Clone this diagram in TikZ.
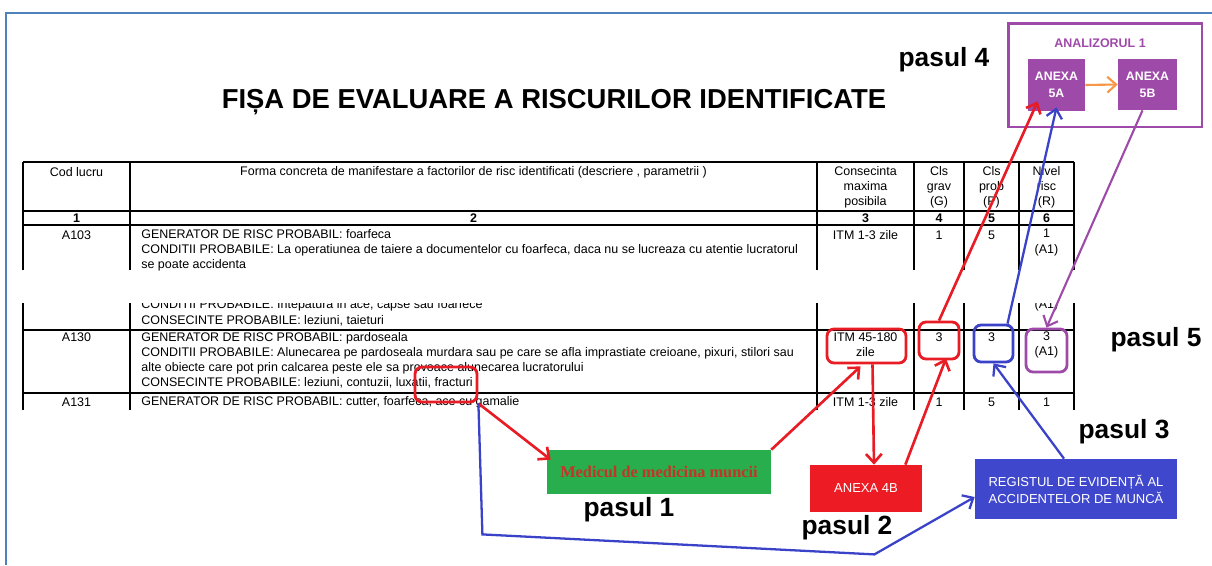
\documentclass[tikz,border=0pt]{standalone}
\usepackage{fontspec}
\setmainfont{Liberation Sans}
\newfontfamily\medfont{Liberation Serif}
\usetikzlibrary{calc,arrows.meta}

\definecolor{framecol}{RGB}{79,129,189}
\definecolor{anpurple}{RGB}{158,74,168}
\definecolor{hlred}{RGB}{232,28,36}
\definecolor{hlblue}{RGB}{58,66,200}
\definecolor{medgreen}{RGB}{40,174,76}
\definecolor{boxred}{RGB}{237,28,36}
\definecolor{regblue}{RGB}{63,72,204}
\definecolor{arrorange}{RGB}{247,150,70}
\definecolor{medtext}{RGB}{196,52,40}

\tikzset{
    tabtxt/.style={font=\fontsize{7.1}{8.6}\selectfont, inner sep=0pt},
    tabnr/.style={tabtxt, font=\fontsize{7.1}{8.6}\selectfont\bfseries},
    tabline/.style={line width=1.1pt},
    pasul/.style={font=\fontsize{15}{18}\selectfont\bfseries, inner sep=0pt},
    hlbox/.style={draw, line width=1.6pt, rounded corners=4pt, inner sep=0pt},
    anbox/.style={fill=anpurple, text=white, align=center, inner sep=0pt,
        font=\fontsize{7}{9.6}\selectfont\bfseries},
    connector/.style={line width=1.5pt, -{Straight Barb[length=5pt,width=9pt]}}
}

\begin{document}
\begin{tikzpicture}[x=0.02cm,y=-0.02cm]
    \useasboundingbox (0,0) rectangle (1212,565);
    \draw[framecol, line width=1.2pt] (1212,13) -- (6,13) -- (6,565);

    \node[font=\fontsize{15.6}{18}\selectfont\bfseries, inner sep=0pt] (title) at (554,102) {FIȘA DE EVALUARE A RISCURILOR IDENTIFICATE};

    % tabel
    \draw[tabline] (23,162) -- (1074,162) (23,211) -- (1074,211) (23,225) -- (1074,225);
    \draw[tabline] (23,330) -- (1074,330) (23,393) -- (1074,393);
    \foreach \x in {23,130,817,914,964,1019,1074}
        \draw[tabline] (\x,162) -- (\x,270) (\x,303) -- (\x,410);

    \node[tabtxt] (hcod) at (76.5,172) {Cod lucru};
    \node[tabtxt] (hforma) at (473.5,172) {Forma concreta de manifestare a factorilor de risc identificati (descriere , parametrii )};
    \node[tabtxt, align=center] (hcons) at (865.5,187) {Consecinta\\maxima\\posibila};
    \node[tabtxt, align=center] (hgrav) at (939,187) {Cls\\grav\\(G)};
    \node[tabtxt, align=center] (hprob) at (991.5,187) {Cls\\prob\\(P)};
    \node[tabtxt, align=center] (hniv) at (1046.5,187) {Nivel\\risc\\(R)};
    \foreach \x/\n in {76.5/1,473.5/2,865.5/3,939/4,991.5/5,1046.5/6}
        \node[tabnr] (nr\n) at (\x,218) {\n};

    \node[tabtxt] (cod103) at (76.5,235) {A103};
    \node[tabtxt, align=left, anchor=west] (txt103) at (141,250) {GENERATOR DE RISC PROBABIL: foarfeca\\CONDITII PROBABILE: La operatiunea de taiere a documentelor cu foarfeca, daca nu se lucreaza cu atentie lucratorul\\se poate accidenta};
    \node[tabtxt] (itm103) at (865.5,235) {ITM 1-3 zile};
    \node[tabtxt] (g103) at (939,235) {1};
    \node[tabtxt] (p103) at (991.5,235) {5};
    \node[tabtxt, align=center] (r103) at (1046.5,242.5) {1\\(A1)};

    \begin{scope}
        \clip (130,303) rectangle (1074,330);
        \node[tabtxt, anchor=west] (txtcut) at (141,305) {CONDITII PROBABILE: Intepatura in ace, capse sau foarfece};
        \node[tabtxt] (rcut) at (1046.5,305) {(A1)};
    \end{scope}
    \node[tabtxt, anchor=west] (txt120) at (141,321) {CONSECINTE PROBABILE: leziuni, taieturi};

    \node[tabtxt] (cod130) at (76.5,337) {A130};
    \node[tabtxt, align=left, anchor=west] (txt130) at (141,360.5) {GENERATOR DE RISC PROBABIL: pardoseala\\CONDITII PROBABILE: Alunecarea pe pardoseala murdara sau pe care se afla imprastiate creioane, pixuri, stilori sau\\alte obiecte care pot prin calcarea peste ele sa provoace alunecarea lucratorului\\CONSECINTE PROBABILE: leziuni, contuzii, luxatii, fracturi};
    \node[tabtxt, align=center] (itm130) at (865.5,345) {ITM 45-180\\zile};
    \node[tabtxt] (g130) at (939,337) {3};
    \node[tabtxt] (p130) at (991.5,337) {3};
    \node[tabtxt, align=center] (r130) at (1046.5,345) {3\\(A1)};

    \node[tabtxt] (cod131) at (76.5,402) {A131};
    \node[tabtxt, anchor=west] (txt131) at (141,402) {GENERATOR DE RISC PROBABIL: cutter, foarfeca, ace cu gamalie};
    \node[tabtxt] (itm131) at (865.5,402) {ITM 1-3 zile};
    \node[tabtxt] (g131) at (939,402) {1};
    \node[tabtxt] (p131) at (991.5,402) {5};
    \node[tabtxt] (r131) at (1046.5,402) {1};

    % marcaje
    \node[hlbox, hlred, minimum width=1.24cm, minimum height=0.7cm] (fractbox) at (446,384.5) {};
    \node[hlbox, hlred, minimum width=1.58cm, minimum height=0.68cm] (itmbox) at (866.5,346) {};
    \node[hlbox, hlred, minimum width=0.8cm, minimum height=0.74cm] (gbox) at (939,340.5) {};
    \node[hlbox, hlblue, minimum width=0.78cm, minimum height=0.74cm] (pbox) at (993.5,343.5) {};
    \node[hlbox, anpurple, minimum width=0.82cm, minimum height=0.86cm] (rbox) at (1046.5,350.5) {};

    % analizor
    \node[draw=anpurple, line width=1.7pt, minimum width=3.88cm, minimum height=2.08cm, inner sep=0pt] (analiz) at (1105,75) {};
    \node[text=anpurple, font=\fontsize{7.1}{9}\selectfont\bfseries, inner sep=0pt] (anlabel) at (1100,43) {ANALIZORUL 1};
    \node[anbox, minimum width=1.14cm, minimum height=1.04cm] (anexa5a) at (1056.5,85) {ANEXA\\5A};
    \node[anbox, minimum width=1.18cm, minimum height=1.02cm] (anexa5b) at (1147.5,84.5) {ANEXA\\5B};

    \node[fill=medgreen, text=medtext, minimum width=4.48cm, minimum height=0.88cm, font=\medfont\fontsize{9.3}{11}\selectfont\bfseries] (medic) at (659,472) {Medicul de medicina muncii};
    \node[fill=boxred, text=white, minimum width=2.24cm, minimum height=0.94cm, font=\fontsize{7.4}{9}\selectfont] (anexa4b) at (866,488.5) {ANEXA 4B};
    \node[fill=regblue, text=white, align=center, minimum width=4.04cm, minimum height=1.2cm, font=\fontsize{7.4}{9.6}\selectfont] (regbox) at (1076,489) {REGISTUL DE EVIDENȚĂ AL\\ACCIDENTELOR DE MUNCĂ};

    \node[pasul] (pasul1) at (629,510) {pasul 1};
    \node[pasul] (pasul2) at (847,528) {pasul 2};
    \node[pasul] (pasul3) at (1124,432) {pasul 3};
    \node[pasul] (pasul4) at (944,60) {pasul 4};
    \node[pasul] (pasul5) at (1156,340) {pasul 5};

    % sageti
    \draw[connector, hlred] (fractbox.south east) -- ($(medic.north west)+(4,10)$);
    \draw[connector, hlred] (medic.north east) -- ($(itmbox.south)+(-6,2)$);
    \draw[connector, hlred] ($(itmbox.south)+(6,0)$) -- ($(anexa4b.north)+(8,0)$);
    \draw[connector, hlred] ($(anexa4b.north east)+(-17,0)$) -- ($(gbox.south)+(7,-2)$);
    \draw[connector, hlred] (gbox.north) -- ($(anexa5a.south west)+(10,-10)$);
    \draw[connector, hlblue, line width=1.3pt] ($(pbox.north)+(14,0)$) -- ($(anexa5a.south)+(0,-4)$);
    \draw[connector, hlblue, line width=1.3pt] ($(regbox.north)+(-12,0)$) -- (pbox.south);
    \draw[connector, hlblue, line width=1.3pt] (fractbox.south east) -- ++(4,131) -- ++(392,20) -- ($(regbox.west)+(0,8)$);
    \draw[connector, anpurple, line width=1.2pt] ($(anexa5b.south)+(-5,0)$) -- (rbox.north);
    \draw[connector, arrorange, line width=1.2pt] (anexa5a.east) -- (anexa5b.west);
\end{tikzpicture}
\end{document}
